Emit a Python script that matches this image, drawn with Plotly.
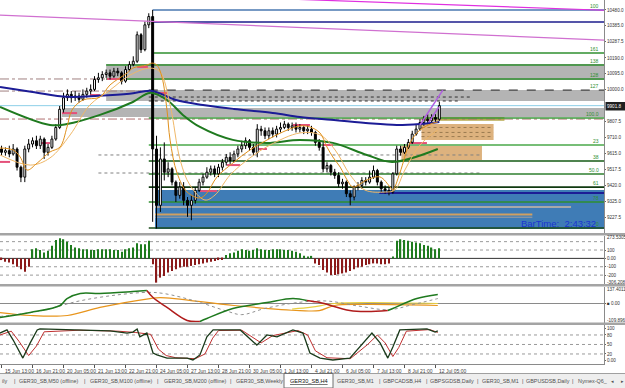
import plotly.graph_objects as go

# ---------------- data ----------------
bar_index = list(range(114))
opens = [9640,9620,9630,9610,9640,9530,9470,9640,9670,9690,
         9660,9700,9620,9650,9700,9770,9880,9950,9970,9950,
         9960,9940,9970,9990,10000,10060,10070,10090,10100,10080,
         10110,10100,10050,10120,10150,10170,10330,10240,10390,10440,
         9640,9300,9580,9500,9520,9440,9360,9410,9330,9300,
         9330,9390,9440,9470,9500,9520,9490,9530,9560,9590,
         9570,9610,9640,9660,9690,9650,9620,9760,9750,9720,
         9750,9730,9760,9770,9790,9770,9780,9760,9770,9750,
         9760,9740,9680,9650,9520,9540,9500,9480,9430,9440,
         9370,9350,9410,9420,9450,9440,9470,9510,9440,9400,
         9390,9380,9490,9640,9620,9650,9680,9730,9760,9800,
         9820,9810,9830,9820]
highs = [9660,9650,9660,9670,9650,9540,9660,9700,9710,9720,
         9720,9710,9670,9720,9790,9900,9980,10000,9990,9990,
         9980,10000,10010,10030,10080,10100,10110,10120,10120,10130,
         10130,10110,10140,10170,10200,10350,10340,10410,10460,10480,
         9720,9650,9680,9560,9530,9450,9440,9440,9350,9360,
         9410,9460,9490,9530,9540,9540,9550,9580,9610,9620,
         9630,9660,9690,9710,9700,9670,9790,9780,9770,9770,
         9770,9780,9800,9810,9800,9800,9800,9790,9780,9780,
         9780,9750,9700,9690,9560,9550,9520,9500,9460,9450,
         9390,9420,9440,9470,9470,9510,9540,9520,9450,9420,
         9410,9500,9660,9660,9670,9700,9750,9790,9820,9840,
         9850,9850,9850,9925]
lows = [9600,9600,9590,9600,9510,9440,9440,9620,9650,9640,
        9640,9580,9600,9640,9690,9760,9860,9930,9920,9930,
        9920,9930,9950,9970,9990,10040,10050,10070,10060,10070,
        10080,10030,10040,10110,10140,10160,10220,10230,10370,9200,
        9160,9260,9450,9470,9420,9320,9340,9300,9230,9210,
        9310,9380,9420,9460,9480,9470,9470,9510,9540,9550,
        9560,9590,9620,9640,9630,9600,9590,9720,9700,9700,
        9710,9710,9740,9760,9750,9750,9740,9740,9730,9730,
        9720,9660,9630,9500,9500,9480,9460,9410,9400,9350,
        9300,9330,9390,9400,9420,9430,9460,9420,9380,9370,
        9360,9370,9480,9600,9610,9640,9670,9720,9750,9780,
        9790,9800,9800,9810]
closes = [9620,9630,9610,9640,9530,9470,9640,9670,9690,9660,
          9700,9620,9650,9700,9770,9880,9950,9970,9950,9960,
          9940,9970,9990,10000,10060,10070,10090,10100,10080,10110,
          10100,10050,10120,10150,10170,10330,10240,10390,10440,9640,
          9300,9580,9500,9520,9440,9360,9410,9330,9300,9330,
          9390,9440,9470,9500,9520,9490,9530,9560,9590,9570,
          9610,9640,9660,9690,9650,9620,9760,9750,9720,9750,
          9730,9760,9770,9790,9770,9780,9760,9770,9750,9760,
          9740,9680,9650,9520,9540,9500,9480,9430,9440,9370,
          9350,9410,9420,9450,9440,9470,9510,9440,9400,9390,
          9380,9490,9640,9620,9650,9680,9730,9760,9800,9820,
          9810,9830,9820,9902]

macd_hist = [-20,-40,-50,-70,-100,-130,-160,-100,
             110,120,100,70,90,150,220,240,230,200,160,130,120,110,110,100,100,
             110,110,110,110,100,100,80,110,120,130,180,170,170,210,
             -70,-290,-230,-210,-170,-150,-130,-110,-100,-100,-90,-80,-70,-60,
             -50,-40,-30,-20,-20,
             40,60,70,90,110,100,90,100,120,110,100,100,110,110,110,100,100,
             90,80,60,30,20,30,
             -60,-80,-140,-170,-200,-200,-190,-180,-170,-150,-130,-110,-100,
             -80,-70,-60,-60,-70,-70,-60,
             20,210,230,220,210,200,190,180,160,150,130,110,120]

date_idx = [0, 8, 16, 24, 32, 40, 48, 56, 64, 72, 80, 88, 96, 104, 112]
date_labels = ["15 Jun 13:00", "16 Jun 21:00", "20 Jun 05:00", "21 Jun 13:00",
               "22 Jun 21:00", "24 Jun 05:00", "27 Jun 13:00", "28 Jun 21:00",
               "30 Jun 05:00", "1 Jul 13:00", "4 Jul 21:00", "6 Jul 05:00",
               "7 Jul 13:00", "8 Jul 21:00", "12 Jul 05:00"]

price_ticks = [10480.0, 10385.0, 10287.5, 10190.0, 10095.0, 10000.0, 9807.5,
               9710.0, 9615.0, 9517.5, 9420.0, 9325.0, 9227.5, 9132.5]
bid_price = 9901.8

# moving averages (bar index, price)
ma_navy_i = [-0.4, 8, 17, 25, 33, 38.8, 45, 52, 60, 70, 77, 85, 94, 102, 108, 113]
ma_navy_v = [10015, 9985, 9955, 9961, 9973, 9991, 9936, 9906, 9882, 9858, 9834,
             9816, 9797, 9785, 9791, 9803]
ma_green_i = [-0.4, 12.5, 16.9, 25.4, 33.9, 38.3, 42.7, 46.8, 51.2, 59.7, 68.5,
              77, 85.5, 94.3, 100.8, 112.6]
ma_green_v = [9894, 9785, 9791, 9846, 9924, 9979, 9936, 9846, 9773, 9695, 9677,
              9695, 9677, 9604, 9562, 9640]
ema_fast_i = [-0.4, 3.0, 4.8, 6.6, 9.2, 12.5, 15.1, 16.9, 18.2, 21.0, 25.4, 28.0,
              32.4, 33.9, 37.5, 38.8, 40.1, 41.4, 42.7, 43.5, 45.3, 47.9, 51.2,
              53.0, 55.6, 59.7, 64.1, 68.5, 72.6, 77.0, 79.6, 82.2, 84.0, 85.5,
              87.4, 89.2, 90.7, 94.3, 97.7, 100.3, 101.0, 102.8, 105.4, 108.0,
              111.4, 112.6]
ema_fast_v = [9646, 9634, 9592, 9513, 9555, 9622, 9652, 9773, 9876, 9936, 9954,
              10027, 10099, 10129, 10147, 10159, 10147, 10075, 9876, 9694, 9495,
              9380, 9344, 9374, 9471, 9555, 9634, 9694, 9743, 9779, 9773, 9737,
              9652, 9592, 9531, 9453, 9410, 9453, 9471, 9410, 9392, 9495, 9676,
              9755, 9797, 9803]
ema_slow_i = [-0.4, 7.4, 12.5, 17.7, 22.8, 28.0, 33.2, 38.3, 40.9, 43.5, 46.1,
              48.6, 52.5, 55.1, 59.0, 64.1, 69.3, 77.0, 82.2, 86.1, 90.0, 93.8,
              99.0, 101.5, 104.1, 108.0, 112.6]
ema_slow_v = [9604, 9543, 9586, 9725, 9906, 9996, 10087, 10129, 10105, 9906, 9574,
              9423, 9332, 9362, 9483, 9586, 9664, 9737, 9725, 9634, 9483, 9392,
              9380, 9392, 9513, 9664, 9755]

# fibonacci / level lines
fib_levels = [10480, 10407, 10220, 10147, 10063, 9996, 9827, 9664, 9568, 9489,
              9410, 9320, 9163]
fib_labels = ["100", "", "161", "138", "128", "127", "100.0", "23", "38", "50.0",
              "61", "78", "0"]
fib_start = [39, 39, 39, 27, 27, 38, 38, 38, 38, 38, 38, 38, 38]
fib_colors = ["#4a78b0", "#1c1c8c", "#2f8f2f", "#2f8f2f", "#2f8f2f", "#202020",
              "#3c9a3c", "#4aa84a", "#145a14", "#2f7f2f", "#103a10", "#2f8f2f",
              "#1a4a1a"]
fib_dash = ["solid", "solid", "solid", "solid", "solid", "dash", "solid", "solid",
            "solid", "solid", "solid", "solid", "solid"]

band_lo = [10057, 9930, 9833]
band_hi = [10153, 9996, 9888]
band_start = [27, 27, 15.6]

zone_blue = (39.6, 9157, 9392)
zone_tan_i0 = [108.4, 103.2]
zone_tan_i1 = [127.0, 124.0]
zone_tan_lo = [9695, 9574]
zone_tan_hi = [9791, 9659]
zone_olive = (108.4, 129.8, 9810, 9834)

pivot_i0 = [-0.4, 10, 15.6, 22.8, 27.2, 35, 39.6, 51.2, 58.2, 65.9, 75.2, 83, 105.4]
pivot_i1 = [2.2, 12.5, 19.5, 25.4, 31.4, 37.8, 42.7, 55.6, 61.6, 68.5, 79.6, 85.5, 109.8]
pivot_p = [9562, 9676, 9857, 9966, 10063, 10135, 9978, 9386, 9543, 9640, 9785, 9664, 9676]

violet_i = [[108.0, 113.9], [110.3, 112.9]]
violet_v = [[9785, 9996], [9803, 9894]]
channel_i = [[-0.4, 155.7], [75, 155.7]]
channel_v = [[10449, 10298], [10545, 10478]]

# oscillator (panel 3)
osc_green_i = [[-0.4, 7.4, 15.1, 16.9, 20.3, 25.4, 33.9, 37.5],
               [51.2, 53.0, 59.7, 68.5, 75.2, 78.8],
               [99.7, 101, 107.2, 112.6]]
osc_green_v = [[-113, -73, -16, 40, 81, 81, 97, 105],
               [-145, -121, -40, 8, 40, 24],
               [-57, -40, 40, 73]]
osc_red_i = [[37.5, 39.1, 42.7, 47.9, 51.2], [78.8, 80.4, 82.2, 89.9, 94.3, 99.7]]
osc_red_v = [[105, 48, -32, -137, -145], [24, 16, 8, -57, -65, -57]]
osc_sig_i = [-0.4, 10, 20, 30, 38, 42, 50, 58, 62, 68, 77, 84, 92, 100, 106, 112.6]
osc_sig_v = [-105, -60, 20, 70, 90, 80, 20, -60, -90, -40, 10, 20, -20, -50, -10, 40]
osc_orange_i = [-0.4, 7.4, 17, 25.4, 38.3, 41, 60, 77, 82, 86, 94.3, 112.6]
osc_orange_v = [-73, -97, -97, -32, 40, 48, -16, -57, -57, -16, -8, -16]
osc_yellow_i = [75, 80, 86, 94.3, 112.6]
osc_yellow_v = [-45, -30, 0, 8, 0]

# stochastic (panel 4)
stoch_main_i = [-0.4, 1.4, 3.0, 5.5, 7.4, 9.2, 9.9, 20.3, 28, 32.4, 33.9, 35, 35.7,
                37.5, 39.1, 40.1, 42.7, 47.9, 49.4, 51.2, 53.0, 54.6, 61.6, 65.9,
                68.5, 71.1, 75.2, 77.8, 79.6, 82.2, 85.5, 89.9, 93.3, 95.6, 97.7,
                99.7, 101, 102.8, 109.8, 111.9, 112.6]
stoch_main_v = [86, 96, 64, 7, 55, 96, 99, 96, 93, 86, 89, 99, 74, 86, 23, 17, 7,
                7, 1, 17, 74, 96, 96, 48, 80, 74, 96, 86, 23, 7, 1, 7, 55, 86, 55,
                7, 42, 96, 99, 89, 93]
stoch_sig_i = [-0.4, 2.5, 4.5, 7, 9, 11, 20, 30, 34.5, 36.5, 38.5, 40.5, 42.5, 45,
               50, 52.5, 54.5, 56, 62, 67, 70, 76.5, 79, 81, 84, 90, 94.5, 97, 99,
               101, 102.5, 104.5, 110.5, 112.6]
stoch_sig_v = [80, 92, 60, 15, 45, 90, 95, 92, 88, 85, 82, 35, 15, 8, 5, 20, 70,
               94, 95, 55, 78, 94, 80, 30, 8, 5, 50, 80, 55, 12, 40, 92, 97, 88]

tab_texts = ["ily", "|", "GER30_SB,M50 (offline)", "|", "GER30_SB,M100 (offline)",
             "|", "GER30_SB,M200 (offline)", "|", "GER30_SB,Weekly", "GER30_SB,H4",
             "GER30_SB,M1", "|", "GBPCADSB,H4", "|", "GBPSGDSB,Daily", "|",
             "GER30_SB,M1", "|", "GBPUSDSB,Daily", "|", "Nymex-Q6_", "\u25c2", "\u25b8"]
tab_x = [0, 12, 17, 82, 88, 155, 162, 228, 234, 288, 335, 377, 381, 424, 428, 475,
         480, 520, 524, 570, 576, 609, 619]

# ---------------- layout helpers ----------------
W, H = 625, 388
PH, PW = 364, 604


def py(px):
    return 1 - px / PH


def pxx(px):
    return px / PW


XR = [-0.4, 155.5]
FONT = "Liberation Sans"
TF = 4.6

fig = go.Figure()

# candles: wicks
wx, wy = [], []
for i, o, h, l, c in zip(bar_index, opens, highs, lows, closes):
    top, bot = max(o, c), min(o, c)
    wx += [i, i, None, i, i, None]
    wy += [h, top, None, bot, l, None]
fig.add_trace(go.Scatter(x=wx, y=wy, mode="lines", line=dict(color="black", width=1),
                         hoverinfo="skip", showlegend=False, xaxis="x", yaxis="y"))
# candles: bodies
fig.add_trace(go.Bar(
    x=bar_index,
    y=[max(abs(c - o), 5) for o, c in zip(opens, closes)],
    base=[min(o, c) for o, c in zip(opens, closes)],
    width=0.5,
    marker=dict(color=["white" if c >= o else "black" for o, c in zip(opens, closes)],
                line=dict(color="black", width=1)),
    showlegend=False, hoverinfo="skip", xaxis="x", yaxis="y"))

# moving averages
fig.add_trace(go.Scatter(x=ma_navy_i, y=ma_navy_v, mode="lines", line=dict(color="#1c1c96", width=2, shape="spline"),
                         showlegend=False, xaxis="x", yaxis="y"))
fig.add_trace(go.Scatter(x=ma_green_i, y=ma_green_v, mode="lines", line=dict(color="#1f7a1f", width=2, shape="spline"),
                         showlegend=False, xaxis="x", yaxis="y"))
fig.add_trace(go.Scatter(x=ema_slow_i, y=ema_slow_v, mode="lines", line=dict(color="#f0b868", width=1, shape="spline"),
                         showlegend=False, xaxis="x", yaxis="y"))
fig.add_trace(go.Scatter(x=ema_fast_i, y=ema_fast_v, mode="lines", line=dict(color="#e0901c", width=1, shape="spline"),
                         showlegend=False, xaxis="x", yaxis="y"))
for xi, yv in zip(violet_i, violet_v):
    fig.add_trace(go.Scatter(x=xi, y=yv, mode="lines", line=dict(color="#b060e0", width=1.5),
                             showlegend=False, xaxis="x", yaxis="y"))
for xi, yv, col in zip(channel_i, channel_v, ["#d070d0", "#e030e0"]):
    fig.add_trace(go.Scatter(x=xi, y=yv, mode="lines", line=dict(color=col, width=1.2),
                             showlegend=False, xaxis="x", yaxis="y"))

# MACD histogram
fig.add_trace(go.Bar(x=bar_index, y=macd_hist, width=0.32,
                     marker=dict(color=["#1e7b1e" if v >= 0 else "#8b1a1a" for v in macd_hist], line=dict(width=0)),
                     showlegend=False, hoverinfo="skip", xaxis="x2", yaxis="y2"))

# oscillator panel 3
fig.add_trace(go.Scatter(x=osc_orange_i, y=osc_orange_v, mode="lines", line=dict(color="#e8951c", width=1.2, shape="spline"),
                         showlegend=False, xaxis="x3", yaxis="y3"))
fig.add_trace(go.Scatter(x=osc_yellow_i, y=osc_yellow_v, mode="lines", line=dict(color="#e8d040", width=1.2, shape="spline"),
                         showlegend=False, xaxis="x3", yaxis="y3"))
fig.add_trace(go.Scatter(x=osc_sig_i, y=osc_sig_v, mode="lines", line=dict(color="#909090", width=1, dash="dot", shape="spline"),
                         showlegend=False, xaxis="x3", yaxis="y3"))
for xi, yv in zip(osc_green_i, osc_green_v):
    fig.add_trace(go.Scatter(x=xi, y=yv, mode="lines", line=dict(color="#1f7a1f", width=1.5, shape="spline"),
                             showlegend=False, xaxis="x3", yaxis="y3"))
for xi, yv in zip(osc_red_i, osc_red_v):
    fig.add_trace(go.Scatter(x=xi, y=yv, mode="lines", line=dict(color="#b01c1c", width=1.5, shape="spline"),
                             showlegend=False, xaxis="x3", yaxis="y3"))

# stochastic panel 4
fig.add_trace(go.Scatter(x=stoch_sig_i, y=stoch_sig_v, mode="lines", line=dict(color="#c03030", width=1),
                         showlegend=False, xaxis="x4", yaxis="y4"))
fig.add_trace(go.Scatter(x=stoch_main_i, y=stoch_main_v, mode="lines", line=dict(color="#1a3a1a", width=1.3),
                         showlegend=False, xaxis="x4", yaxis="y4"))

shapes = []


def hline(i0, i1, p, color, width=1, dash="solid", xref="x", yref="y"):
    shapes.append(dict(type="line", xref=xref, yref=yref, x0=i0, x1=i1, y0=p, y1=p,
                       line=dict(color=color, width=width, dash=dash), layer="below"))


def rect(i0, i1, lo, hi, color, xref="x", yref="y", layer="below"):
    shapes.append(dict(type="rect", xref=xref, yref=yref, x0=i0, x1=i1, y0=lo, y1=hi,
                       fillcolor=color, line=dict(width=0), layer=layer))


END = XR[1]
# zones
rect(zone_blue[0], END, zone_blue[1], zone_blue[2], "#3f7cb6")
for lo, hi, s in zip(band_lo, band_hi, band_start):
    rect(s, END, lo, hi, "#b4b4b4")
for a, b, lo, hi in zip(zone_tan_i0, zone_tan_i1, zone_tan_lo, zone_tan_hi):
    rect(a, b, lo, hi, "#ddb27e")
rect(zone_olive[0], zone_olive[1], zone_olive[2], zone_olive[3], "#b7a850")
for p in [9770, 9740, 9715]:
    hline(108.4, 127, p, "#9a7a50", 1, "dot")
hline(39.6, 147, 9290, "#a8a8a8", 2)
hline(39.6, 137, 9245, "#d2a060", 2)
hline(39.6, 137, 9228, "#a0a0a0", 1)
hline(97.5, END, 9374, "#1c1c96", 2)
hline(-0.4, 27, 10063, "#a08080", 1, "dashdot")
hline(-0.4, 38, 9990, "#a08080", 1, "dashdot")
hline(-0.4, END, 9821, "#b07070", 1, "dashdot")
hline(38, 121, 9954, "#303030", 1, "dot")
hline(38, 118, 9930, "#303030", 1, "dot")
hline(25, 124, 9604, "#808080", 1, "dot")
hline(25, 124, 9495, "#808080", 1, "dot")
hline(-0.4, END, bid_price, "#8ccfe8", 1)
for p, s, col, d in zip(fib_levels, fib_start, fib_colors, fib_dash):
    hline(s, END, p, col, 1.6 if d == "solid" else 1, d)
for a, b, p in zip(pivot_i0, pivot_i1, pivot_p):
    hline(a, b, p, "#e4507a", 2)

for v in [200, 100, -100, -200]:
    hline(XR[0], END, v, "#9a9a9a", 1, "dot", "x2", "y2")
hline(XR[0], END, 0, "#303030", 1, "solid", "x2", "y2")
hline(XR[0], END, 0, "#8a8a8a", 1.2, "solid", "x3", "y3")
for v in [80, 50, 20]:
    hline(XR[0], END, v, "#9a9a9a", 1, "dot", "x4", "y4")

for a, b in [(233, 235.5), (284, 286.5), (322.5, 325)]:
    shapes.append(dict(type="rect", xref="paper", yref="paper", x0=0, x1=W / PW,
                       y0=py(b), y1=py(a), fillcolor="#a4a4a4", line=dict(width=0), layer="above"))
shapes.append(dict(type="rect", xref="paper", yref="paper", x0=0, x1=W / PW, y0=py(388), y1=py(373.5),
                   fillcolor="#eeeeee", line=dict(width=0), layer="above"))
shapes.append(dict(type="line", xref="paper", yref="paper", x0=0, x1=W / PW, y0=py(373.5), y1=py(373.5),
                   line=dict(color="#a0a0a0", width=1), layer="above"))
shapes.append(dict(type="rect", xref="paper", yref="paper", x0=pxx(284), x1=pxx(333), y0=py(388), y1=py(373.5),
                   fillcolor="white", line=dict(width=1, color="#707070"), layer="above"))
shapes.append(dict(type="rect", xref="paper", yref="paper", x0=pxx(605.5), x1=pxx(625), y0=py(110.5), y1=py(102),
                   fillcolor="#202020", line=dict(width=0), layer="above"))

annotations = []
for p, lab in zip(fib_levels, fib_labels):
    if lab:
        annotations.append(dict(x=END - 0.8, y=p, xref="x", yref="y", text=lab, showarrow=False,
                                xanchor="right", yanchor="bottom", yshift=-1,
                                font=dict(size=5, color="#2f8f2f", family=FONT)))
annotations.append(dict(x=pxx(598), y=py(223), xref="paper", yref="paper", text="BarTime:  2:43:32",
                        showarrow=False, xanchor="right", yanchor="middle",
                        font=dict(size=9.5, color="#1a34d0", family=FONT)))
annotations.append(dict(x=pxx(606), y=py(106.3), xref="paper", yref="paper", text=f"{bid_price:.1f}",
                        showarrow=False, xanchor="left", yanchor="middle", xshift=-1,
                        font=dict(size=TF, color="white", family=FONT)))
for txt, ypx in [("273.5305", 237.5), ("-306.208", 282), ("137.4011", 289.5), ("-109.896", 320)]:
    annotations.append(dict(x=pxx(606), y=py(ypx), xref="paper", yref="paper", text=txt, showarrow=False,
                            xanchor="left", yanchor="middle", xshift=-1,
                            font=dict(size=TF, color="#333", family=FONT)))
for i, lab in zip(date_idx, date_labels):
    annotations.append(dict(x=i + 0.4, y=py(366), xref="x4", yref="paper", text=lab, showarrow=False,
                            xanchor="left", yanchor="top", font=dict(size=5, color="#404040", family=FONT)))
for t, xp in zip(tab_texts, tab_x):
    active = t == "GER30_SB,H4"
    annotations.append(dict(x=pxx(xp), y=py(381), xref="paper", yref="paper",
                            text=f"<u>{t}</u>" if active else t, showarrow=False,
                            xanchor="left", yanchor="middle",
                            font=dict(size=5.6 if active else 5.4, color="#101010" if active else "#505050", family=FONT)))

ax_common = dict(showgrid=False, zeroline=False, showticklabels=False, ticks="", range=XR, showline=False)
yax_common = dict(side="right", showgrid=False, zeroline=False, ticks="outside", ticklen=1, tickwidth=1,
                  tickcolor="#666", showline=True, linecolor="#8a8a8a", linewidth=1,
                  tickfont=dict(size=TF, color="#333", family=FONT), automargin=False)

fig.update_layout(
    width=W, height=H,
    margin=dict(l=0, r=W - PW, t=0, b=H - PH),
    paper_bgcolor="white", plot_bgcolor="white",
    showlegend=False, barmode="overlay",
    font=dict(family=FONT),
    xaxis=dict(**ax_common, anchor="y", domain=[0, 1]),
    xaxis2=dict(**ax_common, anchor="y2", domain=[0, 1], matches="x"),
    xaxis3=dict(**ax_common, anchor="y3", domain=[0, 1], matches="x"),
    xaxis4=dict(showgrid=False, zeroline=False, showticklabels=False, range=XR, matches="x",
                anchor="y4", domain=[0, 1], ticks="outside", ticklen=3, tickcolor="#555",
                tickvals=date_idx, showline=True, linecolor="#8a8a8a"),
    yaxis=dict(**yax_common, anchor="x", domain=[py(233), 1], range=[10540 - 6.04 * 233, 10540],
               tickvals=price_ticks, ticktext=[f"{v:.1f}" for v in price_ticks]),
    yaxis2=dict(**yax_common, anchor="x2", domain=[py(284), py(235.5)], range=[-306.2, 273.53],
                tickvals=[100, 0, -100, -200], ticktext=["100", "0.00", "-100", "-200"]),
    yaxis3=dict(**yax_common, anchor="x3", domain=[py(322.5), py(286.5)], range=[-153.5, 137.4],
                tickvals=[0], ticktext=["\u25a0 0.00"]),
    yaxis4=dict(**yax_common, anchor="x4", domain=[0, py(325)], range=[-11.7, 111.5],
                tickvals=[100, 80, 50, 20, 0], ticktext=["100", "80", "50", "20", "0.00"]),
    shapes=shapes,
    annotations=annotations,
)

fig.write_html("out.html")
